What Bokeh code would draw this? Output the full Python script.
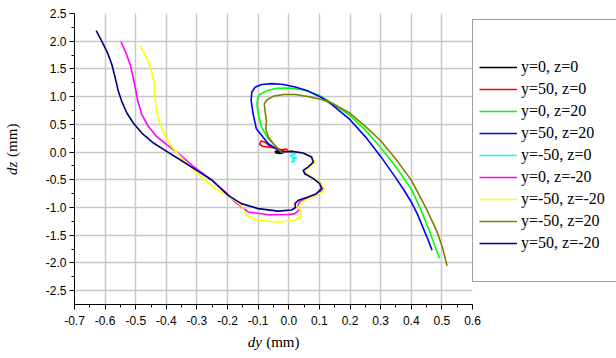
from bokeh.plotting import figure
from bokeh.models import Range1d, FixedTicker, Legend, LegendItem, LinearAxis
from bokeh.embed import file_html
from bokeh.resources import INLINE

# ---- tick definitions ----
x_ticks = [-0.7, -0.6, -0.5, -0.4, -0.3, -0.2, -0.1, 0.0, 0.1, 0.2, 0.3, 0.4, 0.5, 0.6]
x_tick_labels = ["-0.7", "-0.6", "-0.5", "-0.4", "-0.3", "-0.2", "-0.1", "0.0", "0.1", "0.2", "0.3", "0.4", "0.5", "0.6"]
y_ticks = [-2.5, -2.0, -1.5, -1.0, -0.5, 0.0, 0.5, 1.0, 1.5, 2.0, 2.5]
y_tick_labels = ["-2.5", "-2.0", "-1.5", "-1.0", "-0.5", "0.0", "0.5", "1.0", "1.5", "2.0", "2.5"]

# ---- series (dy, dz in mm) ----
labels = ["y=0, z=0", "y=50, z=0", "y=0, z=20", "y=50, z=20", "y=-50, z=0",
          "y=0, z=-20", "y=-50, z=-20", "y=-50, z=20", "y=50, z=-20"]
colors = ["#000000", "#ff0000", "#00ff00", "#0000ff", "#00ffff",
          "#ff00ff", "#ffff00", "#808000", "#000080"]

black_x = [-0.018, -0.030, -0.045, -0.040, -0.028, -0.018, -0.032, -0.044]
black_y = [0.020, 0.030, 0.010, -0.015, -0.025, -0.010, 0.000, -0.020]

red_x = [-0.013, -0.035, -0.057, -0.078, -0.091, -0.095, -0.084, -0.057, -0.024, -0.008, -0.004]
red_y = [0.030, 0.060, 0.090, 0.180, 0.200, 0.140, 0.100, 0.085, 0.043, 0.055, 0.020]

green_x = [-0.024, -0.040, -0.067, -0.089, -0.100, -0.104, -0.102, -0.095, -0.075, -0.040, 0.000,
           0.050, 0.100, 0.142, 0.200, 0.251, 0.300, 0.350, 0.400, 0.430, 0.459, 0.492]
green_y = [0.000, 0.090, 0.240, 0.450, 0.690, 0.850, 0.960, 1.040, 1.100, 1.150, 1.155,
           1.120, 1.020, 0.880, 0.657, 0.390, 0.084, -0.270, -0.669, -1.020, -1.420, -1.916]

blue_x = [-0.024, -0.067, -0.106, -0.117, -0.123, -0.121, -0.110, -0.089, -0.056, -0.017, 0.021,
          0.064, 0.108, 0.142, 0.200, 0.251, 0.300, 0.350, 0.375, 0.400, 0.420, 0.437, 0.453, 0.468]
blue_y = [0.000, 0.150, 0.420, 0.700, 0.934, 1.080, 1.170, 1.220, 1.235, 1.220, 1.175,
          1.100, 0.980, 0.850, 0.584, 0.270, -0.078, -0.470, -0.675, -0.900, -1.120, -1.345, -1.560, -1.771]

cyan_x = [-0.010, 0.015, 0.022, 0.005, 0.010, 0.025, 0.012, 0.020, 0.008, 0.018]
cyan_y = [0.000, -0.010, -0.040, -0.060, -0.090, -0.100, -0.120, -0.150, -0.170, -0.180]

magenta_x = [-0.548, -0.532, -0.518, -0.508, -0.499, -0.493, -0.480, -0.459, -0.432, -0.399, -0.355,
             -0.312, -0.250, -0.200, -0.176, -0.133, -0.067, 0.000, 0.020, 0.036, 0.030, 0.036,
             0.068, 0.095, 0.112, 0.105, 0.083, 0.055, 0.050, 0.065, 0.082, 0.076, 0.048, 0.009,
             -0.024]
magenta_y = [1.990, 1.790, 1.578, 1.337, 1.096, 0.916, 0.675, 0.464, 0.283, 0.133, -0.048,
             -0.259, -0.510, -0.760, -0.900, -1.080, -1.130, -1.125, -1.110, -1.040, -0.960, -0.890,
             -0.820, -0.760, -0.670, -0.570, -0.480, -0.390, -0.330, -0.270, -0.180, -0.090, -0.020,
             0.013, 0.000]

yellow_x = [-0.484, -0.464, -0.448, -0.439, -0.437, -0.432, -0.423, -0.404, -0.383, -0.355, -0.312,
            -0.270, -0.242, -0.200, -0.165, -0.150, -0.140, -0.100, -0.035, 0.020, 0.039, 0.040,
            0.032, 0.043, 0.086, 0.110, 0.116, 0.105, 0.085, 0.058, 0.052, 0.067, 0.084, 0.078,
            0.050, 0.009, -0.024]
yellow_y = [1.910, 1.700, 1.458, 1.217, 0.976, 0.735, 0.554, 0.283, 0.102, -0.078, -0.320,
            -0.520, -0.660, -0.780, -0.920, -1.000, -1.140, -1.230, -1.265, -1.230, -1.160, -1.080,
            -0.990, -0.900, -0.780, -0.720, -0.660, -0.570, -0.480, -0.390, -0.330, -0.270, -0.180,
            -0.090, -0.020, 0.013, 0.000]

olive_x = [-0.024, -0.046, -0.067, -0.075, -0.073, -0.078, -0.080, -0.072, -0.050, -0.017, 0.021,
           0.064, 0.108, 0.142, 0.200, 0.251, 0.300, 0.350, 0.400, 0.450, 0.485, 0.502, 0.517]
olive_y = [0.000, 0.120, 0.270, 0.420, 0.570, 0.750, 0.870, 0.940, 1.010, 1.040, 1.040,
           1.000, 0.950, 0.880, 0.700, 0.460, 0.205, -0.130, -0.506, -1.030, -1.450, -1.720, -2.054]

navy_x = [-0.629, -0.611, -0.592, -0.578, -0.567, -0.557, -0.546, -0.529, -0.508, -0.480, -0.442,
          -0.399, -0.355, -0.312, -0.253, -0.198, -0.155, -0.100, -0.035, 0.009, 0.022, 0.020,
          0.031, 0.063, 0.090, 0.107, 0.101, 0.080, 0.052, 0.047, 0.063, 0.080, 0.074, 0.047,
          0.009, -0.024]
navy_y = [2.190, 2.000, 1.790, 1.580, 1.340, 1.100, 0.920, 0.705, 0.524, 0.343, 0.163,
          0.012, -0.139, -0.289, -0.500, -0.780, -0.930, -1.020, -1.065, -1.045, -1.000, -0.930,
          -0.870, -0.810, -0.750, -0.660, -0.570, -0.480, -0.390, -0.330, -0.270, -0.180, -0.090,
          -0.017, 0.013, 0.000]

series = [(black_x, black_y), (red_x, red_y), (green_x, green_y), (blue_x, blue_y),
          (cyan_x, cyan_y), (magenta_x, magenta_y), (yellow_x, yellow_y),
          (olive_x, olive_y), (navy_x, navy_y)]

NB = "\u00a0"

p = figure(frame_width=398, frame_height=291,
           x_range=Range1d(-0.7, 0.6), y_range=Range1d(-2.75, 2.5),
           output_backend="svg", toolbar_location=None,
           min_border_left=73, min_border_right=145, min_border_top=13, min_border_bottom=54)
p.outline_line_color = None
p.background_fill_color = "white"

x_minor = [round(t + 0.05, 3) for t in x_ticks[:-1]]
y_minor = [round(t + 0.25, 3) for t in y_ticks[:-1]]
p.xaxis.ticker = FixedTicker(ticks=x_ticks, minor_ticks=x_minor)
p.yaxis.ticker = FixedTicker(ticks=y_ticks, minor_ticks=y_minor)
p.xaxis.major_label_overrides = dict(zip(x_ticks, x_tick_labels))
p.yaxis.major_label_overrides = dict(zip(y_ticks, y_tick_labels))

for ax in (p.xaxis, p.yaxis):
    ax.axis_line_color = "black"
    ax.axis_line_width = 1
    ax.major_tick_line_color = "black"
    ax.minor_tick_line_color = "black"
    ax.major_tick_out = 5
    ax.major_tick_in = 0
    ax.minor_tick_out = 3
    ax.minor_tick_in = 0
    ax.major_label_text_font = "Liberation Sans"
    ax.major_label_text_font_size = "12px"
    ax.major_label_text_color = "black"
    ax.axis_label_text_font = "Liberation Serif"
    ax.axis_label_text_font_size = "15px"
    ax.axis_label_text_color = "black"
    ax.axis_label_text_font_style = "italic"
p.xaxis.major_label_standoff = 6
p.yaxis.major_label_standoff = 3

# italic symbol part of the axis titles
p.xaxis.axis_label = "dy" + NB * 10
p.xaxis.axis_label_standoff = 6
p.yaxis.axis_label = "dz" + NB * 5
p.yaxis.axis_label_standoff = 23

# upright unit part of the axis titles (label-only axes)
def unit_axis(standoff):
    a = LinearAxis(ticker=FixedTicker(ticks=[]), axis_line_color=None,
                   major_tick_out=0, major_tick_in=0, minor_tick_out=0, minor_tick_in=0,
                   major_label_standoff=0)
    a.axis_label_text_font = "Liberation Serif"
    a.axis_label_text_font_size = "15px"
    a.axis_label_text_color = "black"
    a.axis_label_text_font_style = "normal"
    a.axis_label_standoff = standoff
    return a

xunit = unit_axis(-19)
xunit.axis_label = NB * 5 + "(mm)"
p.add_layout(xunit, "below")
yunit = unit_axis(-19)
yunit.axis_label = NB * 10 + "(mm)"
p.add_layout(yunit, "left")

p.grid.grid_line_color = "#c8c8c8"
p.grid.grid_line_width = 1.5

renderers = []
for (xs, ys), c in zip(series, colors):
    r = p.line(xs, ys, line_color=c, line_width=1.6)
    renderers.append(r)

dummy = p.line([], [], line_alpha=0)

items = [LegendItem(label=lab, renderers=[r]) for lab, r in zip(labels, renderers)]
items.append(LegendItem(label=" ", renderers=[dummy]))

legend = Legend(items=items, location=(0, 22))
legend.border_line_color = "#404040"
legend.border_line_width = 1
legend.background_fill_color = "white"
legend.background_fill_alpha = 1
legend.padding = 6
legend.margin = 0
legend.spacing = 2
legend.label_height = 20
legend.glyph_height = 20
legend.glyph_width = 38
legend.label_standoff = 4
legend.label_width = 91
legend.label_text_font = "Liberation Serif"
legend.label_text_font_size = "16px"
legend.label_text_color = "black"
legend.title = " "
legend.title_text_font_size = "16px"
legend.title_standoff = 13
p.add_layout(legend, "right")

open("out.html", "w").write(file_html(p, INLINE))
